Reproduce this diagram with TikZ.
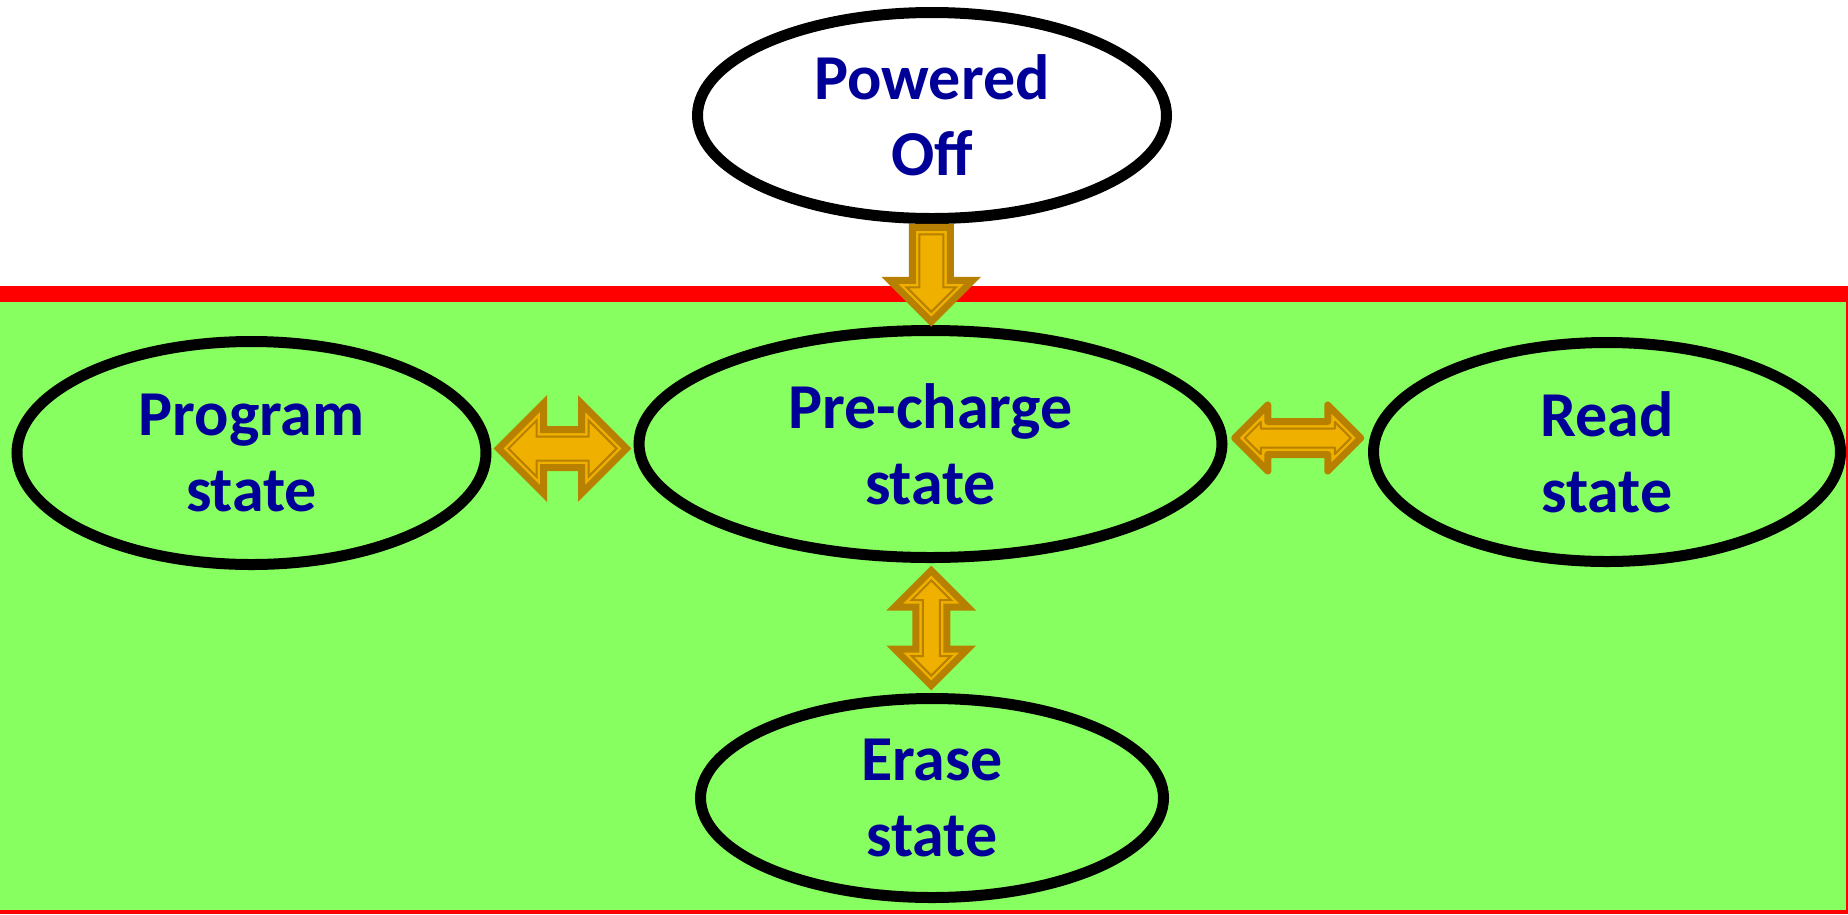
\documentclass[tikz,border=0pt]{standalone}
\usepackage{fontspec}
\setmainfont{Carlito}
\usetikzlibrary{calc, shapes.geometric}
\definecolor{bg_green}{RGB}{136,255,96}
\definecolor{st_blue}{RGB}{0,0,153}
\definecolor{arr_fill}{RGB}{240,176,0}
\definecolor{arr_edge}{RGB}{184,128,0}

% outlines of the block arrows: tail/left end, tip, half head width, half shaft width
\newcommand{\sglpath}[4]{(#1,-#4) -- (#1,#4) -- (#2-#3,#4) -- (#2-#3,#3) -- (#2,0) -- (#2-#3,-#3) -- (#2-#3,-#4) -- cycle}
\newcommand{\dblpath}[4]{(#1,0) -- (#1+#3,#3) -- (#1+#3,#4) -- (#2-#3,#4) -- (#2-#3,#3) -- (#2,0) -- (#2-#3,-#3) -- (#2-#3,-#4) -- (#1+#3,-#4) -- (#1+#3,-#3) -- cycle}

\tikzset{
  pics/sglblk/.style n args={3}{code={
    \pgfmathsetmacro\blka{-(#1)}\pgfmathsetmacro\blkb{#1}
    \draw[blk] \sglpath{\blka}{\blkb}{#2}{#3};
    \pgfmathsetmacro\blka{-(#1)+7}\pgfmathsetmacro\blkb{#1-9.9}
    \pgfmathsetmacro\blkh{#2-16.9}\pgfmathsetmacro\blks{#3-7}
    \draw[blkin] \sglpath{\blka}{\blkb}{\blkh}{\blks};
  }},
  pics/dblblk/.style n args={3}{code={
    \pgfmathsetmacro\blka{-(#1)}\pgfmathsetmacro\blkb{#1}
    \draw[blk] \dblpath{\blka}{\blkb}{#2}{#3};
    \pgfmathsetmacro\blka{-(#1)+9.9}\pgfmathsetmacro\blkb{#1-9.9}
    \pgfmathsetmacro\blkh{#2-16.9}\pgfmathsetmacro\blks{#3-7}
    \draw[blkin] \dblpath{\blka}{\blkb}{\blkh}{\blks};
  }},
}

\begin{document}
\begin{tikzpicture}[x=1pt, y=-1pt, line join=miter,
      font=\fontsize{64pt}{76pt}\selectfont\bfseries,
      state/.style={draw, ellipse, line width=11pt, inner sep=0pt, align=center, text=st_blue},
      blk/.style={draw=arr_edge, fill=arr_fill, line width=7pt},
      blkin/.style={draw=arr_edge, line width=2pt}]
    \useasboundingbox (0,0) rectangle (1848,914);
    % green area below the red line
    \fill[bg_green] (0,294) rectangle (1846,911);
    \draw[red, line width=4pt] (0,912) -- (1848,912);
    \draw[red, line width=1.5pt] (1846.75,302) -- (1846.75,911);
    \draw[red, line width=16pt] (0,294) -- (1848,294);

    \node[state, fill=white, minimum width=469pt, minimum height=206pt] (off) at (932,115.5) {Powered\\Off};
    \node[state, minimum width=469pt, minimum height=223pt] (prog) at (251.5,453) {Program\\state};
    \node[state, minimum width=583pt, minimum height=227pt] (pre) at (930.5,444) {Pre-charge\\state};
    \node[state, minimum width=467pt, minimum height=219pt] (read) at (1607,452) {Read\\state};
    \node[state, minimum width=463pt, minimum height=199pt] (erase) at (932,798) {Erase\\state};

    \pic[rotate=-90] at ($(off.south)!.5!(pre.north)$) {sglblk={47.25}{41.5}{19}};
    \pic at ($(prog.east)!.5!(pre.west)$) {dblblk={64}{45}{19}};
    \pic[line join=round] at ($(pre.east)!.5!(read.west)+(0,-10)$) {dblblk={63}{33}{16.5}};
    \pic[rotate=90] at ($(pre.south)!.5!(erase.north)$) {dblblk={57.5}{36.5}{15.5}};
\end{tikzpicture}
\end{document}
